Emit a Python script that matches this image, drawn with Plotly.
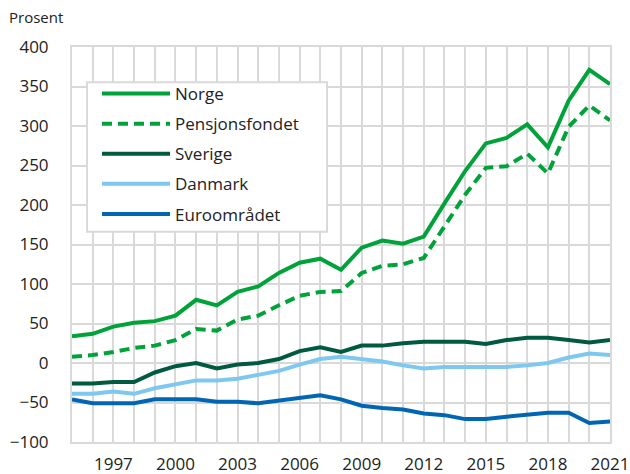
import plotly.graph_objects as go

years = list(range(1995, 2022))

norge = [34, 37, 46, 51, 53, 60, 80, 73, 90, 97, 114, 127, 132, 118, 146, 155, 151, 160,
         202, 243, 278, 285, 302, 273, 332, 371, 353]
pensjonsfondet = [8, 10, 14, 19, 22, 29, 43, 41, 55, 60, 73, 85, 90, 91, 114, 123, 125, 133,
                  173, 213, 247, 249, 265, 240, 299, 326, 307]
sverige = [-26, -26, -24, -24, -12, -4, 0, -7, -2, 0, 5, 15, 20, 14, 22, 22, 25, 27,
           27, 27, 24, 29, 32, 32, 29, 26, 29]
danmark = [-39, -39, -36, -39, -32, -27, -22, -22, -20, -15, -10, -2, 5, 8, 5, 2, -3, -7,
           -5, -5, -5, -5, -3, 0, 7, 12, 10]
euro = [-46, -51, -51, -51, -46, -46, -46, -49, -49, -51, -48, -45, -41, -46, -54, -57, -59, -64,
        -66, -71, -71, -68, -66, -63, -63, -76, -74]

series = [
    ("Norge", norge, "#00A23A", "solid"),
    ("Pensjonsfondet", pensjonsfondet, "#00A23A", "10px,6px"),
    ("Sverige", sverige, "#005A3F", "solid"),
    ("Danmark", danmark, "#7EC8F0", "solid"),
    ("Euroområdet", euro, "#0066B3", "solid"),
]

FONT = "Open Sans"
GRID = "#D9D9D9"
TEXT = "#222222"

fig = go.Figure()
for i, (name, vals, color, dash) in enumerate(series):
    fig.add_trace(go.Scatter(
        x=years, y=vals, name=name, mode="lines", legendgroup=f"g{i}",
        line=dict(color=color, width=4, dash=dash),
    ))

fig.update_layout(
    width=630, height=474,
    margin=dict(l=72, r=20, t=47, b=32),
    paper_bgcolor="white", plot_bgcolor="white",
    font=dict(family=FONT, size=17, color=TEXT),
    showlegend=True,
    legend=dict(
        x=0.0465, y=0.9266, xanchor="left", yanchor="top",
        bgcolor="rgba(0,0,0,0)", borderwidth=0,
        font=dict(family=FONT, size=17, color=TEXT),
        traceorder="grouped", tracegroupgap=5, itemwidth=68,
    ),
    shapes=[dict(
        type="rect", xref="paper", yref="paper",
        x0=0.0279, x1=0.474, y0=0.532, y1=0.911,
        fillcolor="white", line=dict(color=GRID, width=2), layer="above",
    )],
    annotations=[dict(
        text="Prosent", xref="paper", yref="paper", x=-0.12, y=1.076,
        xanchor="left", yanchor="middle", showarrow=False,
        font=dict(family=FONT, size=15, color=TEXT),
    )],
)

fig.update_xaxes(
    range=[1995, 2021], tick0=1997, dtick=3, showgrid=True, gridcolor=GRID, gridwidth=2,
    minor=dict(dtick=1, tick0=1995, showgrid=True, gridcolor=GRID, gridwidth=2),
    showline=True, linecolor=GRID, linewidth=2, mirror=True, zeroline=False,
    ticks="", ticklabelstandoff=6, automargin=False,
)
fig.update_yaxes(
    range=[-100, 400], dtick=50, showgrid=True, gridcolor=GRID, gridwidth=2,
    showline=True, linecolor=GRID, linewidth=2, mirror=True, zeroline=False,
    ticks="", ticklabelstandoff=18, automargin=False,
)

fig.write_html("out.html")
